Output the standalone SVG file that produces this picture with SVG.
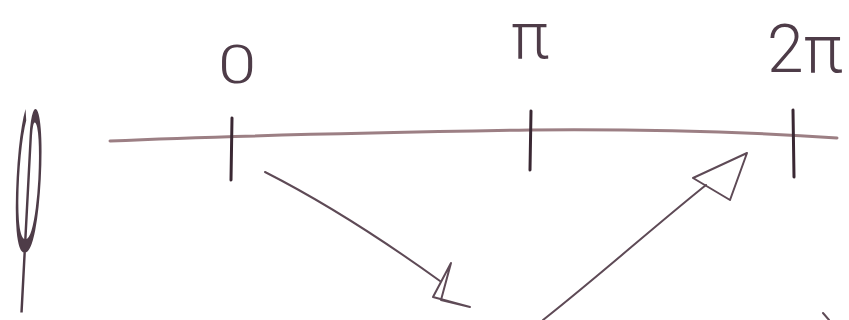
<svg xmlns="http://www.w3.org/2000/svg" width="849" height="320" viewBox="0 0 849 320">
<style>
.axis{fill:none;stroke:#9c7f84;stroke-width:3;stroke-linecap:round}
.tick{fill:none;stroke:#3a2833;stroke-width:3;stroke-linecap:round}
.lbl{font-family:Roboto,"Liberation Sans",sans-serif;font-weight:300;fill:#4e3c48}
.conn{fill:none;stroke:#5e4a56;stroke-width:2;stroke-linecap:round;stroke-linejoin:round}
</style>
<rect width="849" height="320" fill="#ffffff"/>
<g id="axis">
<path class="axis" d="M110,141 C200,137 350,133 530,130 C650,129 750,132 837,138"/>
</g>
<g id="node-0">
<line class="tick" x1="232" y1="118" x2="231" y2="180"/>
<text class="lbl" font-size="53" text-anchor="middle" transform="translate(237,83) scale(1.3,1)">0</text>
</g>
<g id="node-pi">
<line class="tick" x1="531" y1="111" x2="530" y2="170"/>
<text class="lbl" font-size="64" text-anchor="middle" x="530" y="58">π</text>
</g>
<g id="node-2pi">
<line class="tick" x1="793" y1="110" x2="794" y2="177"/>
<text class="lbl" font-size="66" x="767" y="72">2π</text>
</g>
<g id="phi">
<text class="lbl" font-size="60" text-anchor="middle" transform="translate(38,0) skewX(-3) scale(0.7,4.45)" y="56.2">φ</text>
</g>
<g id="connectors">
<path class="conn" d="M265,172 C330,205 390,245 440,281"/>
<polygon class="conn" points="451,263 433,297 470,307 441,300"/>
<path class="conn" d="M543,320 C600,275 650,230 706,185"/>
<polygon class="conn" points="747,153 693,178 730,200"/>
<path class="conn" d="M823,313 L829,320"/>
</g>
</svg>
